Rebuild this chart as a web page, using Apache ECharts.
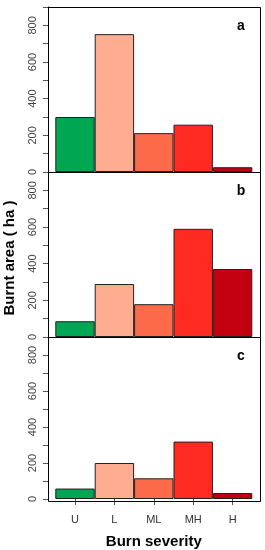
<!DOCTYPE html>
<html><head><meta charset="utf-8">
<script src="https://cdn.jsdelivr.net/npm/echarts@6/dist/echarts.min.js"></script>
</head>
<body style="margin:0;background:#fff">
<div id="c" style="width:265px;height:550px"></div>
<script>
// ---- data ----
const categories = ['U', 'L', 'ML', 'MH', 'H'];
const panelLabels = ['a', 'b', 'c'];
const valuesA = [300, 752, 212, 258, 26];
const valuesB = [86, 289, 179, 590, 371];
const valuesC = [58, 200, 115, 319, 33];
const yMin = 0, yMax = 900, yStep = 100;
const yLabelEvery = 200;
const xTitle = 'Burn severity';
const yTitle = 'Burnt area ( ha )';

// ---- styles ----
const barColors = ['#00A651', '#FFAD90', '#FD6A4A', '#FF2A22', '#C3000F'];
const FONT = '"Liberation Sans", Arial, sans-serif';
const frameLeft = 48, frameRight = 260;
const barLeft = 55.3, barRight = 252.3;
const panelTops = [7, 172, 337];
const panelHeights = [165, 165, 164];
const allValues = [valuesA, valuesB, valuesC];

const grids = [], xAxes = [], yAxes = [], series = [], graphics = [];
allValues.forEach((vals, i) => {
  grids.push({ left: barLeft, width: barRight - barLeft, top: panelTops[i], height: panelHeights[i] });
  const last = i === allValues.length - 1;
  xAxes.push({
    type: 'category', gridIndex: i, data: categories, boundaryGap: true,
    axisLine: { show: false },
    axisTick: { show: last, alignWithLabel: true, length: 6, lineStyle: { color: '#555' } },
    axisLabel: { show: last, color: '#333', fontSize: 11, fontFamily: FONT, margin: 15 },
    name: last ? xTitle : '', nameLocation: 'middle', nameGap: 35,
    nameTextStyle: { fontSize: 15, fontWeight: 'bold', fontFamily: FONT, color: '#000' }
  });
  yAxes.push({
    type: 'value', gridIndex: i, min: yMin, max: yMax, interval: yStep, offset: barLeft - frameLeft,
    splitLine: { show: false },
    axisLine: { show: true, lineStyle: { color: '#000', width: 1 } },
    axisTick: { show: true, length: 5, lineStyle: { color: '#555' } },
    axisLabel: {
      rotate: 90, fontSize: 11, color: '#444', fontFamily: FONT, margin: 10,
      formatter: v => (v % yLabelEvery === 0 && v < yMax) ? String(v) : ''
    }
  });
  series.push({
    type: 'bar', xAxisIndex: i, yAxisIndex: i, barWidth: '100%', barGap: '0%',
    data: vals.map((v, k) => ({ value: v, itemStyle: { color: barColors[k] } })),
    itemStyle: { borderColor: '#222', borderWidth: 1 },
    silent: true, animation: false
  });
  graphics.push({
    type: 'rect', z: 100,
    shape: { x: frameLeft + 0.5, y: panelTops[i] + 0.5, width: frameRight - frameLeft, height: panelHeights[i] },
    style: { fill: 'none', stroke: '#000', lineWidth: 1 }
  });
  graphics.push({
    type: 'text', z: 100, x: 241, y: panelTops[i] + 19,
    style: { text: panelLabels[i], font: 'bold 14px ' + FONT, fill: '#000', textAlign: 'center', textVerticalAlign: 'middle' }
  });
});
graphics.push({
  type: 'text', x: 10, y: 258, rotation: Math.PI / 2,
  style: { text: yTitle, font: 'bold 15px ' + FONT, fill: '#000', textAlign: 'center', textVerticalAlign: 'middle' }
});

const chart = echarts.init(document.getElementById('c'), null, { renderer: 'canvas' });
chart.setOption({
  backgroundColor: '#fff',
  animation: false,
  grid: grids, xAxis: xAxes, yAxis: yAxes, series: series, graphic: graphics
});
</script>
</body></html>
